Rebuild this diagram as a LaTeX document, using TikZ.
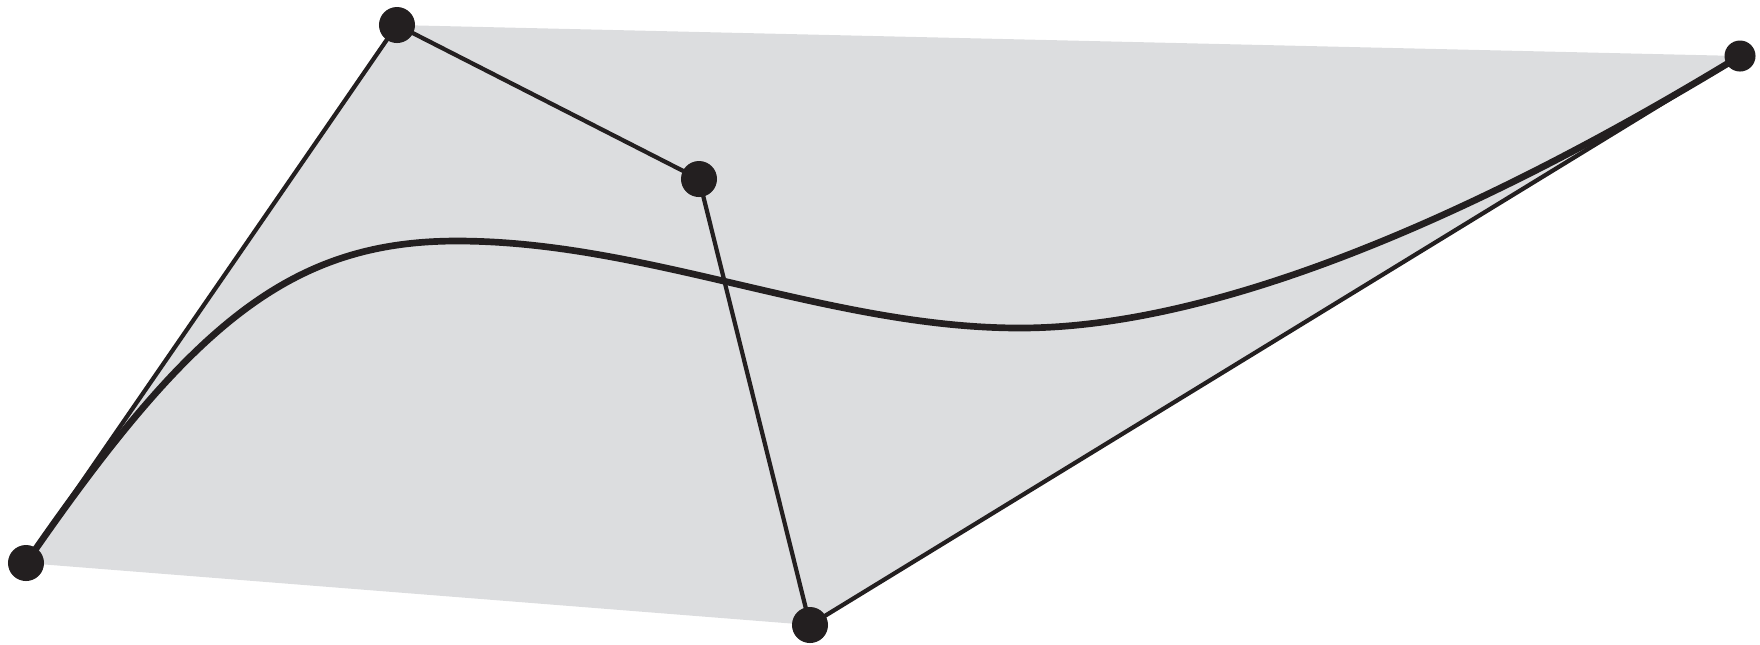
\documentclass[tikz,border=0pt]{standalone}
\usepackage{xcolor}
\usepackage{tikz}
\usetikzlibrary{positioning,calc}

\definecolor{hullgrey}{RGB}{220,221,223}
\definecolor{ink}{RGB}{35,31,32}

\begin{document}
\begin{tikzpicture}[
  x={(0.01cm,0)}, y={(0,-0.01cm)},
  dot/.style={circle, fill=ink, inner sep=0pt, minimum size=3.6mm},
  poly/.style={draw=ink, line width=1.2pt},
  spline/.style={draw=ink, line width=1.9pt}
]
\useasboundingbox (0,0) rectangle (1760,644);
% control points
\coordinate (c0) at (26,563);
\coordinate (c1) at (397,25);
\coordinate (c2) at (699,179);
\coordinate (c3) at (810,625);
\coordinate (c4) at (1740,56);
% points the curve passes through
\coordinate (top) at (457,241);
\coordinate (low) at (1020,328);
% convex hull
\fill[hullgrey] (c0) -- (c1) -- (c4) -- (c3) -- cycle;
% control polygon
\draw[poly] (c0) -- (c1) -- (c2) -- (c3) -- (c4);
% the curve
\draw[spline] (c0) .. controls (190,325) and (290,241) .. (top)
  .. controls (647,241) and (830,328) .. (low)
  .. controls (1220,328) and (1484,212) .. (c4);
\node[dot] (p0) at (c0) {};
\node[dot] (p1) at (c1) {};
\node[dot] (p2) at (c2) {};
\node[dot] (p3) at (c3) {};
\node[dot, minimum size=3.1mm] (p4) at (c4) {};
\end{tikzpicture}
\end{document}
